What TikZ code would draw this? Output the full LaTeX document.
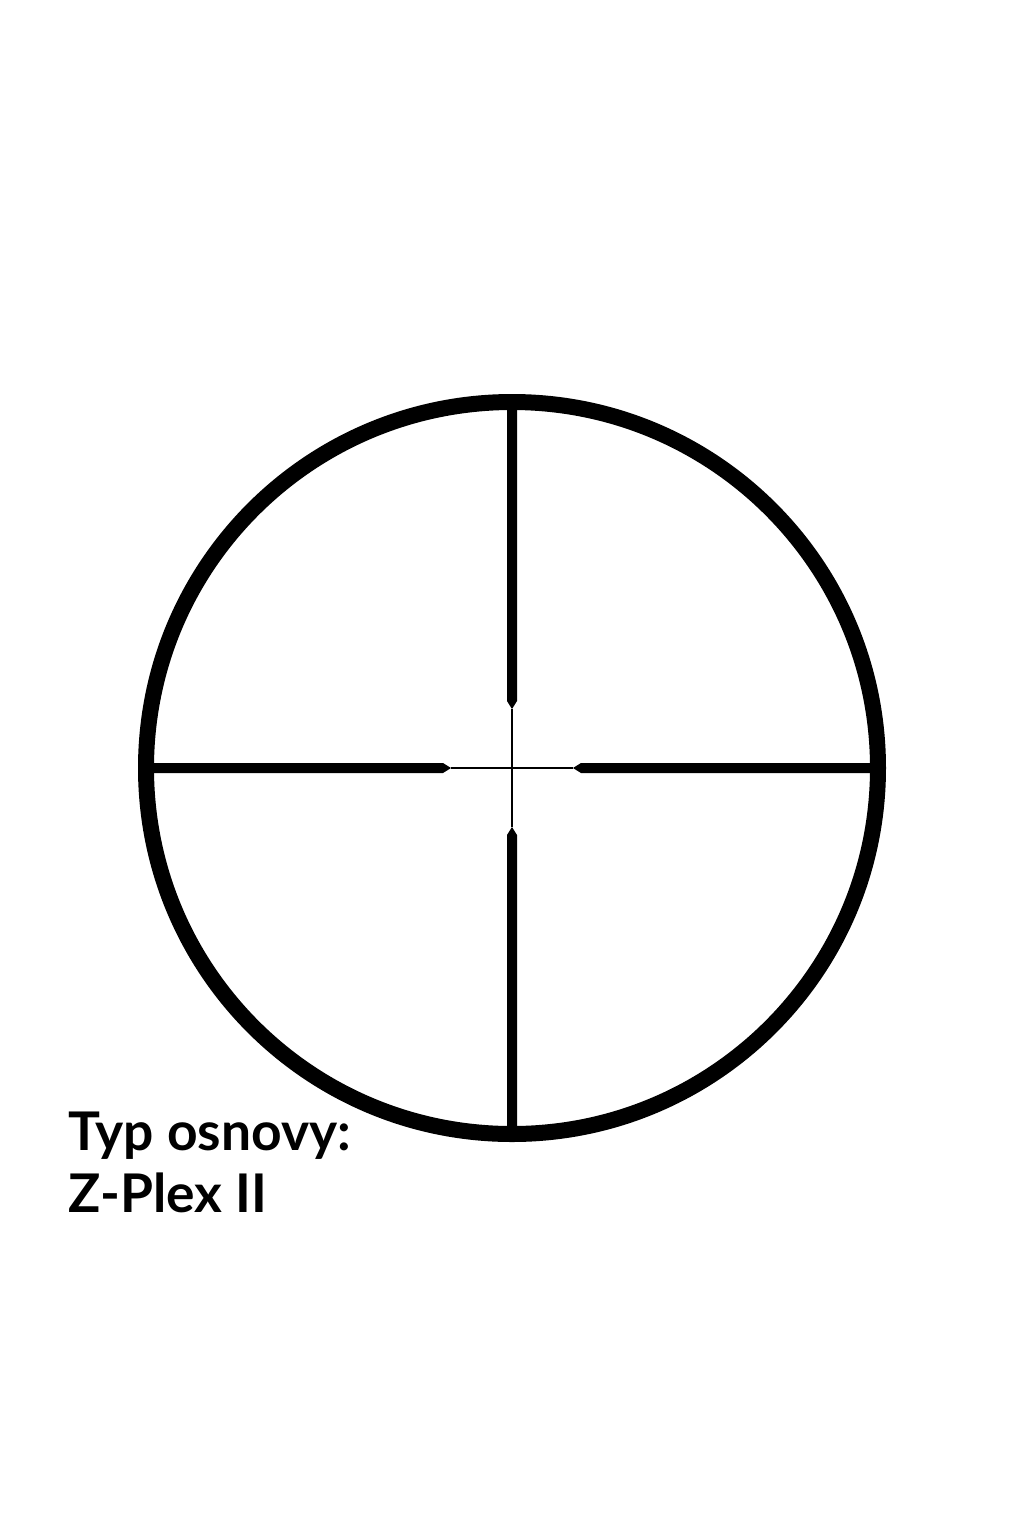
\documentclass[tikz,border=0pt]{standalone}
\usepackage{fontspec}
\setmainfont{Lato}
\usepackage{tikz}

\begin{document}
\begin{tikzpicture}[x=0.75pt,y=0.75pt,yscale=-1]
\useasboundingbox (0,0) rectangle (1024,1536);

%Circle
\draw [line width=12pt] (512,768) circle (366) ;
%Post top
\fill (507,402) -- (517,402) -- (517,701) -- (512,709) -- (507,701) -- cycle ;
%Post bottom
\fill (507,1134) -- (517,1134) -- (517,835) -- (512,827) -- (507,835) -- cycle ;
%Post left
\fill (146,763) -- (146,773) -- (443,773) -- (451,768) -- (443,763) -- cycle ;
%Post right
\fill (878,763) -- (878,773) -- (581,773) -- (573,768) -- (581,763) -- cycle ;
%Fine cross
\draw [line width=1.5pt] (512,709) -- (512,827) ;
\draw [line width=1.5pt] (451,768) -- (573,768) ;

%Label
\node (title) [anchor=base west, inner sep=0] at (68,1150) {\fontsize{40}{46}\selectfont\bfseries Typ osnovy:};
\node (model) [anchor=base west, inner sep=0] at (68,1212) {\fontsize{40}{46}\selectfont\bfseries Z-Plex II};

\end{tikzpicture}
\end{document}
